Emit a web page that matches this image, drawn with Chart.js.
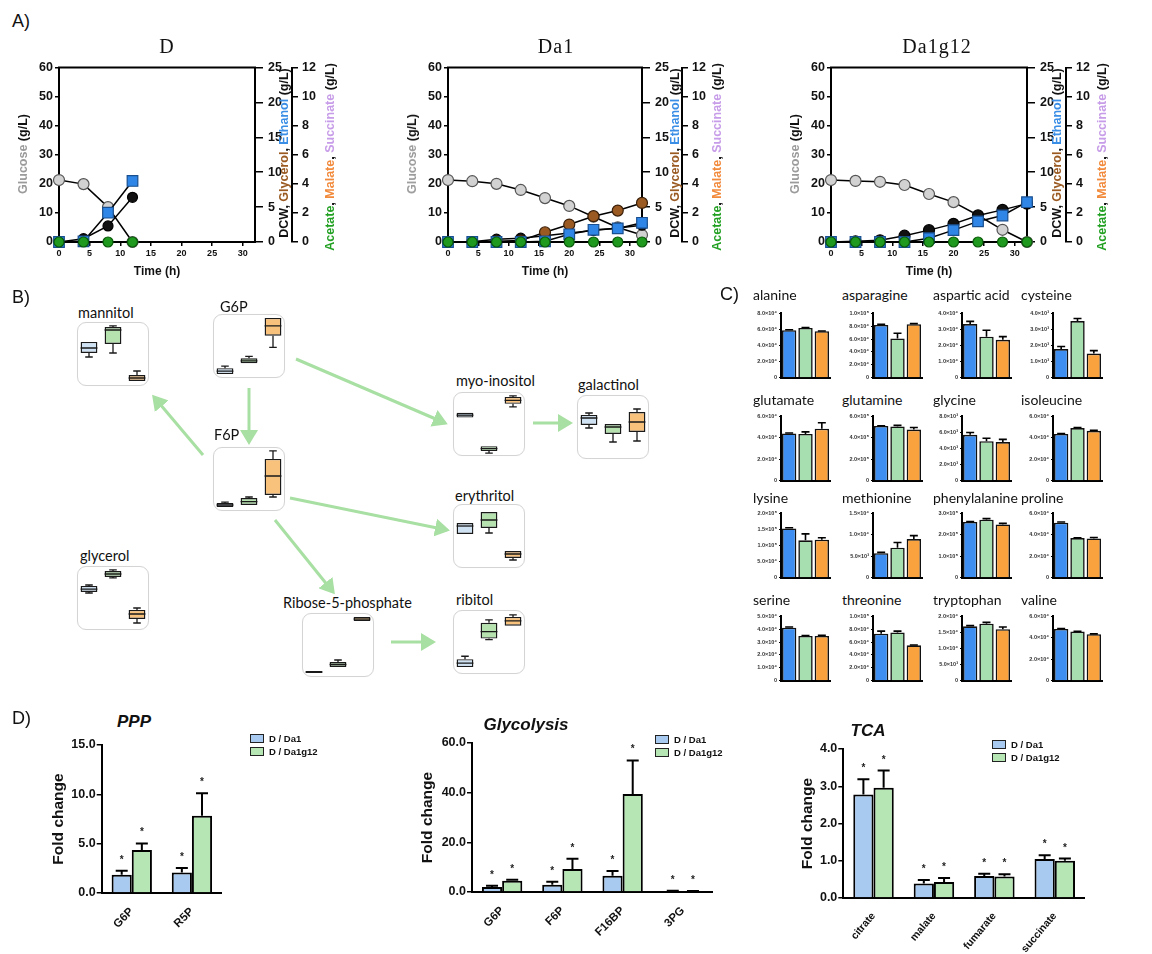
<!DOCTYPE html>
<html><head><meta charset="utf-8">
<script src="https://cdn.jsdelivr.net/npm/chart.js@4.4.1/dist/chart.umd.min.js"></script>
<style>
body{margin:0;background:#fff;width:1152px;height:954px;position:relative;overflow:hidden;font-family:"Liberation Sans",Arial,sans-serif;color:#111;}
canvas.c{position:absolute;}
.t{position:absolute;white-space:nowrap;}
.rot{position:absolute;transform:translate(-50%,-50%) rotate(-90deg);white-space:nowrap;font-weight:bold;font-size:12.5px;}
.plab{position:absolute;font-size:18px;transform:translateY(-50%);}
.ctitle{position:absolute;font-family:"Liberation Serif",serif;font-size:20px;letter-spacing:1px;transform:translate(-50%,-50%);}
.btitle{position:absolute;font-family:Lato,"Open Sans",sans-serif;font-size:14.5px;transform:translateY(-50%);white-space:nowrap;color:#111;}
.brect{position:absolute;width:72px;height:64px;border:1px solid #d4d4d4;border-radius:9px;box-sizing:border-box;box-shadow:0 0 1px #eee;}
.leg{position:absolute;font-size:9.5px;font-weight:bold;white-space:nowrap;}
.leg i{display:inline-block;width:12px;height:7px;border:1px solid #222;margin-right:5px;vertical-align:-1px;}
.dtitle{position:absolute;font-weight:bold;font-style:italic;font-size:17px;transform:translate(-50%,-50%);}
</style></head><body>
<svg id="arrows" width="1152" height="954" style="position:absolute;left:0;top:0">
<defs><marker id="ah" markerWidth="6" markerHeight="6" refX="4" refY="3" orient="auto" markerUnits="strokeWidth"><path d="M0,0 L5,3 L0,6 z" fill="#a8dfa2"/></marker></defs>
</svg>
<script>
Chart.defaults.font.family="'Liberation Sans', Arial, sans-serif";
Chart.defaults.color='#111';
Chart.defaults.plugins.legend.display=false;
Chart.defaults.plugins.tooltip.enabled=false;
Chart.defaults.animation=false;

// ---------- Panel A data ----------
const timeD=[0,4,8,12];
const glucoseD=[21.3,19.9,12.0,0];
const dcwD=[0,0.47,2.3,6.4];
const ethanolD=[0,0.1,4.2,8.75];
const acidsD=[0,0,0,0];

const timeDa1=[0,4,8,12,16,20,24,28,32];
const glucoseDa1=[21.3,20.9,20.0,17.9,15.1,12.4,8.7,5.0,2.4];
const dcwDa1=[0,0.05,0.4,0.55,0.9,1.3,1.65,2.0,2.4];
const glycerolDa1=[0,0,0.1,0.2,1.4,2.5,3.7,4.5,5.6];
const ethanolDa1=[0,0,0,0,0.1,1.1,1.75,1.95,2.75];
const acidsDa1=[0,0,0,0,0,0,0,0,0];

const timeDa1g12=[0,4,8,12,16,20,24,28,32];
const glucoseDa1g12=[21.3,21.0,20.7,19.6,16.5,13.7,9.2,4.2,0];
const dcwDa1g12=[0,0.1,0.25,0.9,1.7,2.6,3.8,4.6,5.5];
const ethanolDa1g12=[0,0,0,0,0.55,1.7,2.95,3.8,5.7];
const acidsDa1g12=[0,0,0,0,0,0,0,0,0];

// ---------- Panel B data: [min, q1, median, q3, max] per strain (D, Da1, Da1g12), relative units ----------
const boxGroups=['D','Da1','Da1g12'];
const mannitolBox=[[45.3,51.6,59.4,68.8,68.8],[51.6,65.6,87.5,92.2,93.8],[7.8,7.8,12.5,17.2,23.4]];
const g6pBox=[[6.2,6.2,10.8,15.4,18.5],[23.1,23.1,26.9,30.8,33.8],[47.7,66.2,81.5,93.8,93.8]];
const f6pBox=[[6.3,6.3,9.4,12.5,14.0],[9.4,9.4,14.8,20.3,21.9],[21.9,25.0,54.7,81.3,93.8]];
const glycerolBox=[[57.8,59.4,64.0,68.8,70.3],[81.3,82.8,87.5,92.2,93.8],[10.9,17.2,25.0,31.3,34.4]];
const r5pBox=[[6.3,6.3,7.8,9.4,9.4],[15.6,15.6,19.5,23.4,26.6],[87.5,87.5,90.6,93.8,93.8]];
const myoBox=[[60.0,60.0,63.8,67.7,67.7],[4.6,7.7,11.5,15.4,15.4],[76.9,81.5,86.9,92.3,93.8]];
const galactinolBox=[[48.4,53.1,64.1,68.8,71.9],[26.6,39.1,50.0,54.7,54.7],[28.1,42.2,57.8,73.4,78.1]];
const erythritolBox=[[53.1,53.1,65.6,70.3,70.3],[54.7,62.5,75.0,87.5,87.5],[12.5,15.6,21.9,26.6,26.6]];
const ribitolBox=[[10.8,10.8,16.9,23.1,27.7],[53.8,55.4,66.2,80.0,84.6],[75.4,75.4,83.0,89.2,92.3]];

// ---------- Panel C data ----------
const aaNames=['alanine','asparagine','aspartic acid','cysteine','glutamate','glutamine','glycine','isoleucine','lysine','methionine','phenylalanine','proline','serine','threonine','tryptophan','valine'];
const aaD=[59000,82000,33300,1780,44000,510000,5700,43500,153000,5700,260000,51300,41200,73000,16900,48200];
const aaDa1=[61800,61000,25500,3520,43500,505000,4900,49000,116000,7000,270000,36900,34800,75000,17700,45800];
const aaDa1g12=[57800,83000,23500,1500,48500,476000,4800,46500,118000,9000,248000,36600,34800,55000,16000,43300];
const aaDErr=[500,800,1700,160,500,2000,280,500,2000,200,2000,600,500,4000,200,500];
const aaDa1Err=[600,8000,4000,160,2000,10000,370,600,20000,1200,5000,300,300,2000,400,300];
const aaDa1g12Err=[300,1000,2000,180,5500,19000,330,500,6000,800,5000,900,500,500,700,300];
const aaMax=[80000,100000,40000,4000,60000,600000,8000,60000,200000,15000,300000,60000,50000,100000,20000,60000];
const aaStep=[20000,20000,10000,1000,20000,200000,2000,20000,50000,5000,100000,20000,10000,20000,5000,20000];

// ---------- Panel D data ----------
const pppCats=['G6P','R5P'];
const pppDa1=[1.85,2.09], pppDa1Err=[0.41,0.44];
const pppDa1g12=[4.35,7.82], pppDa1g12Err=[0.67,2.28];
const glyCats=['G6P','F6P','F16BP','3PG'];
const glyDa1=[2.0,2.95,6.58,0.4], glyDa1Err=[0.5,1.21,1.88,0.15];
const glyDa1g12=[4.56,9.26,39.5,0.27], glyDa1g12Err=[0.41,4.14,13.5,0.13];
const tcaCats=['citrate','malate','fumarate','succinate'];
const tcaDa1=[2.78,0.39,0.59,1.05], tcaDa1Err=[0.41,0.09,0.06,0.10];
const tcaDa1g12=[2.96,0.43,0.58,1.0], tcaDa1g12Err=[0.46,0.11,0.06,0.06];

// ---------- helpers ----------
function mk(left,top,w,h,config){
  const c=document.createElement('canvas');c.width=w;c.height=h;c.className='c';
  c.style.left=left+'px';c.style.top=top+'px';c.style.width=w+'px';c.style.height=h+'px';
  document.body.appendChild(c);
  config.options=Object.assign({responsive:false,animation:false,devicePixelRatio:1},config.options||{});
  return new Chart(c,config);
}
function html(cls,left,top,inner,style){
  const d=document.createElement('div');d.className=cls;d.style.left=left+'px';d.style.top=top+'px';
  d.innerHTML=inner;if(style)d.style.cssText+=style;document.body.appendChild(d);return d;
}
const errPlugin={id:'errbars',afterDatasetsDraw(c){
  const ctx=c.ctx,ys=c.scales.y;
  c.data.datasets.forEach((ds,di)=>{
    if(!ds.errs)return;
    c.getDatasetMeta(di).data.forEach((el,i)=>{
      const yTop=ys.getPixelForValue(ds.data[i]+ds.errs[i]);
      ctx.save();ctx.strokeStyle='#000';ctx.lineWidth=ds.errWidth||2;ctx.beginPath();
      ctx.moveTo(el.x,el.y);ctx.lineTo(el.x,yTop);
      const cw=ds.capW||5;ctx.moveTo(el.x-cw,yTop);ctx.lineTo(el.x+cw,yTop);ctx.stroke();
      if(ds.stars&&ds.stars[i]){ctx.fillStyle='#222';ctx.font='bold 10px "Liberation Sans"';ctx.textAlign='center';ctx.textBaseline='alphabetic';ctx.fillText('*',el.x,yTop-14+6);}
      ctx.restore();
    });
  });
}};
const framePlugin={id:'frame',beforeDatasetsDraw(c){const a=c.chartArea,ctx=c.ctx;ctx.save();ctx.strokeStyle='#000';ctx.lineWidth=2;ctx.strokeRect(a.left,a.top,a.right-a.left,a.bottom-a.top);ctx.restore();}};
const boxPlugin={id:'boxp',afterDatasetsDraw(c){
  const ctx=c.ctx,ys=c.scales.y;
  c.data.datasets.forEach((ds,di)=>{
    if(!ds.box)return;
    c.getDatasetMeta(di).data.forEach((el,i)=>{
      const b=ds.box[i],hw=el.width/2,cw=hw*0.45,p=v=>ys.getPixelForValue(v);
      ctx.save();ctx.strokeStyle='#1a1a1a';ctx.lineWidth=1.3;ctx.beginPath();
      ctx.moveTo(el.x-hw,p(b[2]));ctx.lineTo(el.x+hw,p(b[2]));
      if(b[0]<b[1]){ctx.moveTo(el.x,p(b[1]));ctx.lineTo(el.x,p(b[0]));ctx.moveTo(el.x-cw,p(b[0]));ctx.lineTo(el.x+cw,p(b[0]));}
      if(b[4]>b[3]){ctx.moveTo(el.x,p(b[3]));ctx.lineTo(el.x,p(b[4]));ctx.moveTo(el.x-cw,p(b[4]));ctx.lineTo(el.x+cw,p(b[4]));}
      ctx.stroke();ctx.restore();
    });
  });
}};
Chart.register(errPlugin);

// ---------- Panel A ----------
function ser(t,v,axis,bg,bd,style,r,order){
  return {data:t.map((x,i)=>({x,y:v[i]})),yAxisID:axis,borderColor:'#000',borderWidth:1.5,pointBackgroundColor:bg,pointBorderColor:bd,
    pointBorderWidth:1.2,pointStyle:style,pointRadius:r,order,showLine:true,fill:false,tension:0,clip:false};
}
function axisY(min,max,step,pos,w,tl,pad,weight){
  return {position:pos,min,max,weight,ticks:{stepSize:step,font:{size:12.5,weight:'bold'},color:'#111',padding:pad},
    grid:{drawOnChartArea:false,tickLength:tl,color:'#000',lineWidth:1.5},border:{color:'#000',width:2},afterFit:s=>{s.width=w;}};
}
function fermChart(left,w,y1w,datasets){
  mk(left,55,w,228,{type:'line',data:{datasets},options:{
    layout:{padding:{top:9,left:0,right:0,bottom:0}},
    scales:{
      x:{type:'linear',min:0,max:32,ticks:{stepSize:5,includeBounds:false,font:{size:9,weight:'bold'},color:'#111',padding:2,maxRotation:0},
        grid:{drawOnChartArea:false,tickLength:4,color:'#000',lineWidth:1.5},border:{color:'#000',width:2},
        title:{display:true,text:'Time (h)',font:{size:12,weight:'bold'},color:'#111',padding:{top:0,bottom:4}},afterFit:s=>{s.height=41;}},
      y:axisY(0,60,10,'left',59,4,2,0),
      y1:axisY(0,25,5,'right',y1w,8,5,1),
      y2:axisY(0,12,2,'right',25,6,4,2)
    }},plugins:[framePlugin]});
}
const GRAY='#d2d2d2',BLK='#111',BRN='#9a5a22',BLU='#2f86e6',GRN='#1f9a1f';
fermChart(0,317,37,[
  ser(timeD,acidsD,'y2',GRN,'#0a5a0a','circle',5,0),
  ser(timeD,ethanolD,'y1',BLU,'#1a4f8f','rect',7.5,1),
  ser(timeD,dcwD,'y1',BLK,'#000','circle',5,2),
  ser(timeD,glucoseD,'y',GRAY,'#555','circle',5.5,4)
]);
fermChart(389,318,40,[
  ser(timeDa1,acidsDa1,'y2',GRN,'#0a5a0a','circle',5,0),
  ser(timeDa1,ethanolDa1,'y1',BLU,'#1a4f8f','rect',7.5,1),
  ser(timeDa1,dcwDa1,'y1',BLK,'#000','circle',5,3),
  ser(timeDa1,glycerolDa1,'y1',BRN,'#3a1f08','circle',5.5,2),
  ser(timeDa1,glucoseDa1,'y',GRAY,'#555','circle',5.5,4)
]);
fermChart(772,319,39,[
  ser(timeDa1g12,acidsDa1g12,'y2',GRN,'#0a5a0a','circle',5,0),
  ser(timeDa1g12,ethanolDa1g12,'y1',BLU,'#1a4f8f','rect',7.5,1),
  ser(timeDa1g12,dcwDa1g12,'y1',BLK,'#000','circle',5.5,2),
  ser(timeDa1g12,glucoseDa1g12,'y',GRAY,'#555','circle',5.5,4)
]);
html('plab',12,21,'A)');
html('ctitle',167,46,'D');html('ctitle',556,46,'Da1');html('ctitle',937,46,'Da1g12');
const gl='<span style="color:#9b9b9b">Glucose</span> (g/L)';
const mid='DCW, <span style="color:#9a5a22">Glycerol</span>, <span style="color:#3a8ee6">Ethanol</span> (g/L)';
const far='<span style="color:#22a022">Acetate</span>, <span style="color:#f28a3c">Malate</span>, <span style="color:#c79ce8">Succinate</span> (g/L)';
[[22.7,284,330],[411.7,675,716.7],[795,1056.7,1101.7]].forEach(p=>{
  html('rot',p[0],153.5,gl);html('rot',p[1],152.5,mid);html('rot',p[2],156.7,far);
});

// ---------- Panel B ----------
html('plab',12,297,'B)');
const boxFill=['#cfe2f4','#b5e2ae','#f9c27c'];
function boxChart(name,left,top,lx,ly,boxes){
  html('brect',left,top,'');
  mk(left,top,72,64,{type:'bar',data:{labels:boxGroups,datasets:[{data:boxes.map(b=>[b[1],b[3]]),box:boxes,
    backgroundColor:boxFill,borderColor:'#1a1a1a',borderWidth:1.4,borderSkipped:false,barPercentage:0.7,categoryPercentage:1}]},
    options:{layout:{padding:0},scales:{x:{display:false},y:{display:false,min:0,max:100}}},plugins:[boxPlugin]});
  html('btitle',lx,ly,name);
}
boxChart('mannitol',77,322,78,312,mannitolBox);
boxChart('G6P',213,314,220,306,g6pBox);
boxChart('F6P',213,447,214,434,f6pBox);
boxChart('glycerol',77,566,80,555,glycerolBox);
boxChart('Ribose-5-phosphate',302,613,283,602,r5pBox);
boxChart('myo-inositol',453,392,456,380,myoBox);
boxChart('galactinol',577,395,578,384,galactinolBox);
boxChart('erythritol',453,504,455,495,erythritolBox);
boxChart('ribitol',453,610,456,599,ribitolBox);
const svg=document.getElementById('arrows');
[[296,359,445,423],[249,388,249,442],[203,455,154,397],[290,498,447,530],[275,520,333,592],[391,642,433,642],[533,423,570,423]].forEach(a=>{
  const l=document.createElementNS('http://www.w3.org/2000/svg','line');
  l.setAttribute('x1',a[0]);l.setAttribute('y1',a[1]);l.setAttribute('x2',a[2]);l.setAttribute('y2',a[3]);
  l.setAttribute('stroke','#a8dfa2');l.setAttribute('stroke-width','3');l.setAttribute('marker-end','url(#ah)');svg.appendChild(l);
});

// ---------- Panel C ----------
html('plab',720,294,'C)');
const SUP='⁰¹²³⁴⁵⁶⁷⁸⁹';
function sci(v){if(v===0)return '0';const e=Math.floor(Math.log10(v)+1e-9);const m=v/Math.pow(10,e);return m.toFixed(1)+'×10'+String(e).split('').map(d=>SUP[+d]).join('');}
const colX=[781,872.7,962.3,1052.7],rowTop=[312.7,415.7,512.7,615.7],rowBot=[378.7,482,579,681.7];
const titleX=[753,842,933,1021],titleY=[294,399,497,599];
aaNames.forEach((n,i)=>{
  const r=Math.floor(i/4),col=i%4;
  const h=Math.round(rowBot[r]-rowTop[r])+9;
  mk(Math.round(colX[col]-40),Math.round(rowTop[r]-5),92,h,{type:'bar',
    data:{labels:['D','Da1','Da1g12'],datasets:[{data:[aaD[i],aaDa1[i],aaDa1g12[i]],errs:[aaDErr[i],aaDa1Err[i],aaDa1g12Err[i]],
      capW:4,errWidth:1.6,backgroundColor:['#3d8ef0','#a8dfb0','#f9a23e'],borderColor:'#111',borderWidth:1.6,barPercentage:0.88,categoryPercentage:1}]},
    options:{layout:{padding:{top:5,right:3,bottom:3,left:0}},scales:{
      x:{ticks:{display:false},grid:{display:false},border:{color:'#000',width:2},afterFit:s=>{s.height=1;}},
      y:{min:0,max:aaMax[i],ticks:{stepSize:aaStep[i],callback:v=>sci(v),font:{size:5.5,weight:'bold'},color:'#333',padding:2},
        grid:{drawOnChartArea:false,tickLength:2,color:'#000'},border:{color:'#000',width:2},afterFit:s=>{s.width=40;}}
    }}});
  html('btitle',titleX[col],titleY[r],n,'font-size:14px;');
});

// ---------- Panel D ----------
html('plab',12,718,'D)');
function foldChart(left,top,w,h,yw,cats,a,ae,b,be,max,step,rot,fs){
  mk(left,top,w,h,{type:'bar',data:{labels:cats,datasets:[
    {data:a,errs:ae,stars:a.map(()=>true),capW:6,backgroundColor:'#a8c9f0',borderColor:'#000',borderWidth:2,barPercentage:1,categoryPercentage:0.67},
    {data:b,errs:be,stars:b.map(()=>true),capW:6,backgroundColor:'#b6e6b4',borderColor:'#000',borderWidth:2,barPercentage:1,categoryPercentage:0.67}]},
    options:{layout:{padding:{top:10,right:0,bottom:0,left:0}},scales:{
      x:{ticks:{minRotation:rot,maxRotation:rot,autoSkip:false,font:{size:fs,weight:'bold'},color:'#111',padding:4},grid:{display:false},
        border:{color:'#000',width:2},afterFit:s=>{s.height=56;}},
      y:{min:0,max,ticks:{stepSize:step,callback:v=>v.toFixed(1),font:{size:12.5,weight:'bold'},color:'#111',padding:1},
        grid:{drawOnChartArea:false,tickLength:5,color:'#000',lineWidth:1.5},border:{color:'#000',width:2},
        title:{display:true,text:'Fold change',font:{size:15.5,weight:'bold'},color:'#111',padding:{top:4,bottom:4}},afterFit:s=>{s.width=yw;}}
    }}});
}
foldChart(45,735,177,214,56.7,pppCats,pppDa1,pppDa1Err,pppDa1g12,pppDa1g12Err,15,5,45,11.5);
foldChart(414,733,299,215,58,glyCats,glyDa1,glyDa1Err,glyDa1g12,glyDa1g12Err,60,20,45,11.5);
foldChart(794,739,291,215,49.3,tcaCats,tcaDa1,tcaDa1Err,tcaDa1g12,tcaDa1g12Err,4,1,50,10.5);
html('dtitle',134,722,'PPP');html('dtitle',526,725,'Glycolysis');html('dtitle',868,731,'TCA');
function legend(x,y1,y2){
  html('leg',x,y1-6,'<i style="background:#a8c9f0"></i>D / Da1');
  html('leg',x,y2-6,'<i style="background:#b6e6b4"></i>D / Da1g12');
}
legend(250,738.5,752);legend(655,740.3,753.3);legend(992,745,757.7);
</script>
</body></html>
